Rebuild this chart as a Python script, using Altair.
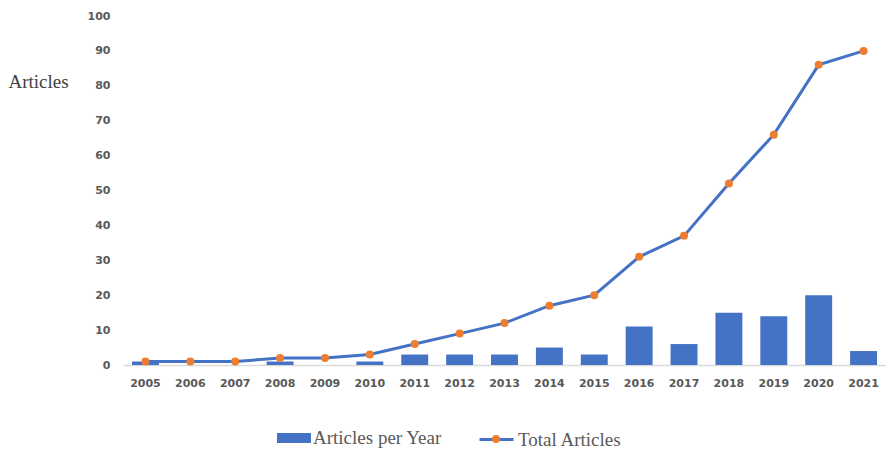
import altair as alt
import pandas as pd

years = ["2005", "2006", "2007", "2008", "2009", "2010", "2011", "2012", "2013",
         "2014", "2015", "2016", "2017", "2018", "2019", "2020", "2021"]
per_year = [1, 0, 0, 1, 0, 1, 3, 3, 3, 5, 3, 11, 6, 15, 14, 20, 4]
total = [1, 1, 1, 2, 2, 3, 6, 9, 12, 17, 20, 31, 37, 52, 66, 86, 90]
y_ticks = [0, 10, 20, 30, 40, 50, 60, 70, 80, 90, 100]

df = pd.DataFrame({"year": years, "per_year": per_year, "total": total})

BLUE = "#4472c4"
ORANGE = "#ed7d31"
LBL = "#595959"

x = alt.X(
    "year:O",
    title=None,
    scale=alt.Scale(paddingInner=0.4, paddingOuter=0.2),
    axis=alt.Axis(labelAngle=0, ticks=False, domainColor="#d9d9d9", domainWidth=1.5,
                  labelFont="DejaVu Sans", labelFontWeight="bold", labelFontSize=11,
                  labelColor=LBL, labelPadding=12),
)

yscale = alt.Scale(domain=[0, 100], nice=False)
yaxis = alt.Axis(values=y_ticks, tickCount=11, grid=False, domain=False, ticks=False,
                 labelOverlap=False,
                 labelFont="DejaVu Sans", labelFontWeight="bold", labelFontSize=11,
                 labelColor=LBL, labelPadding=13,
                 titleAngle=0, titleFont="Liberation Serif", titleFontSize=19,
                 titleFontWeight="normal", titleColor="#404040",
                 titleX=-115, titleY=65, titleAlign="left", titleBaseline="middle")

bars = alt.Chart(df).transform_calculate(s1="'Articles per Year'").mark_bar(color=BLUE).encode(
    x=x,
    y=alt.Y("per_year:Q", scale=yscale, title="Articles", axis=yaxis),
    color=alt.Color(
        "s1:N",
        scale=alt.Scale(domain=["Articles per Year"], range=[BLUE]),
        legend=alt.Legend(title=None, orient="none", legendX=154, legendY=405, padding=0,
                          symbolType="M-1,-0.29H1V0.29H-1Z", symbolSize=1156,
                          symbolStrokeWidth=0, labelOffset=2,
                          labelFont="Liberation Serif", labelFontSize=19, labelColor=LBL),
    ),
)

line = alt.Chart(df).transform_calculate(s2="'Total Articles'").mark_line(strokeWidth=3).encode(
    x=x,
    y=alt.Y("total:Q", scale=yscale, title="Articles", axis=yaxis),
    stroke=alt.Stroke(
        "s2:N",
        scale=alt.Scale(domain=["Total Articles"], range=[BLUE]),
        legend=alt.Legend(title=None, orient="none", legendX=355, legendY=405, padding=0,
                          symbolType="M-1,0H1", symbolSize=1156, symbolStrokeWidth=3,
                          symbolFillColor="transparent", labelOffset=3,
                          labelFont="Liberation Serif", labelFontSize=19, labelColor=LBL),
    ),
)

points = alt.Chart(df).transform_calculate(s3="'dot'").mark_point(
    filled=True, color=ORANGE, size=64, opacity=1
).encode(
    x=x,
    y=alt.Y("total:Q", scale=yscale, title="Articles", axis=yaxis),
    shape=alt.Shape(
        "s3:N",
        scale=alt.Scale(domain=["dot"], range=["circle"]),
        legend=alt.Legend(title=None, orient="none", legendX=368, legendY=418, padding=0,
                          symbolSize=64, symbolFillColor=ORANGE, symbolStrokeWidth=0,
                          symbolOpacity=1, labelExpr="''"),
    ),
)

chart = alt.layer(bars, line, points).resolve_scale(y="shared").properties(
    width=763,
    height=349,
    autosize=alt.AutoSizeParams(type="none"),
    padding={"left": 115, "top": 8, "right": 0, "bottom": 85},
).configure_view(stroke=None)

chart.save("out.html", embed_options={"renderer": "svg", "actions": False})
